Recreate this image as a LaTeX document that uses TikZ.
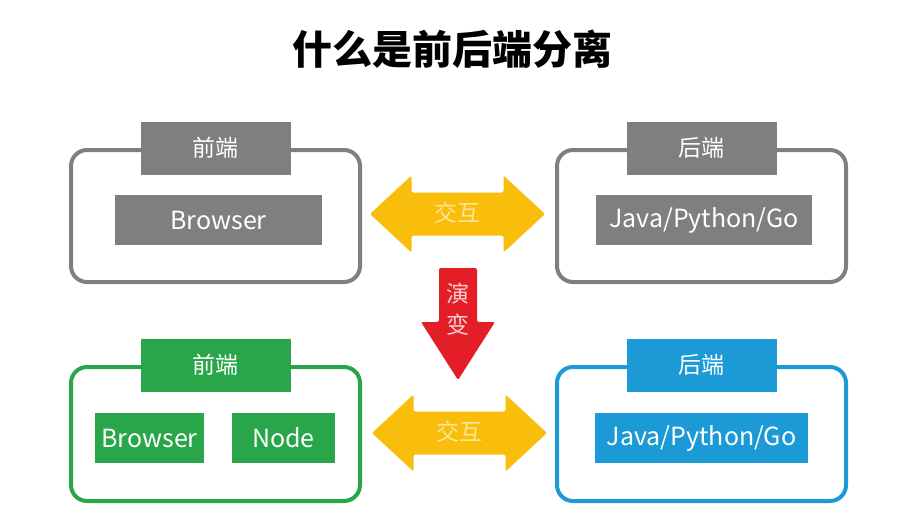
\documentclass[tikz,border=0pt]{standalone}
\usepackage{fontspec}
\setmainfont{Noto Sans CJK SC}
\usepackage{tikz}
\usetikzlibrary{calc,positioning}

\definecolor{oldgray}{HTML}{7F7F7F}
\definecolor{newgreen}{HTML}{29A64A}
\definecolor{newblue}{HTML}{1B9AD6}
\definecolor{swapyellow}{HTML}{F9BD0B}
\definecolor{evored}{HTML}{E31E26}
\definecolor{swaptext}{HTML}{FFE596}
\definecolor{evotext}{HTML}{F9CFCF}

\begin{document}
\begin{tikzpicture}[x=1pt, y=-1pt,
		frame/.style={draw=#1, line width=4pt, rounded corners=16pt, minimum width=289pt, minimum height=132pt},
		tag/.style={fill=#1, text=white, inner sep=0pt, minimum width=150pt, minimum height=53pt, font=\fontsize{23}{26}\selectfont},
		item/.style={fill=#1, text=white, inner sep=0pt, minimum height=50pt, font=\fontsize{25}{29}\selectfont},
		word/.style={inner sep=0pt, font=\fontsize{23}{26}\selectfont},
		pics/swaparrow/.style={code={
			\fill[swapyellow, rounded corners=2pt] (-87.5,0) -- (-46,-38.5) -- (-46,-21.5) -- (46,-21.5) -- (46,-38.5)
				-- (87.5,0) -- (46,38.5) -- (46,21.5) -- (-46,21.5) -- (-46,38.5) -- cycle;}}]
		\useasboundingbox (0,0) rectangle (915,512);
		% Title
		\node[font=\fontsize{40}{44}\selectfont\bfseries] (title) at (452,49) {什么是前后端分离};

		% Before: frames, tags and items
		\node[frame=oldgray] (oldfe) at (215.5,216) {};
		\node[tag=oldgray] (oldfetag) at (oldfe.north) {前端};
		\node[item=oldgray, minimum width=207pt] (oldbrowser) at (218.5,220) {Browser};
		\node[frame=oldgray, minimum width=289pt] (oldbe) at (701.5,216) {};
		\node[tag=oldgray] (oldbetag) at (oldbe.north) {后端};
		\node[item=oldgray, minimum width=216pt] (oldserver) at (704,220) {Java/Python/Go};

		% After: frames, tags and items
		\node[frame=newgreen, minimum height=134pt] (newfe) at (215.5,434) {};
		\node[tag=newgreen] (newfetag) at (newfe.north) {前端};
		\node[item=newgreen, minimum width=109pt] (newbrowser) at (149.5,438) {Browser};
		\node[item=newgreen, minimum width=103pt] (newnode) at (283.5,438) {Node};
		\node[frame=newblue, minimum height=134pt] (newbe) at (701.5,434) {};
		\node[tag=newblue] (newbetag) at (newbe.north) {后端};
		\node[item=newblue, minimum width=213pt] (newserver) at (701.5,438) {Java/Python/Go};

		% Interaction arrows
		\pic at ($(oldfe.east)!0.5!(oldbe.west)+(-1,-2)$) {swaparrow};
		\node[word, text=swaptext] (oldswap) at ($(oldfe.east)!0.5!(oldbe.west)+(-1,-3)$) {交互};
		\pic at ($(newfe.east)!0.5!(newbe.west)+(1,-1)$) {swaparrow};
		\node[word, text=swaptext] (newswap) at ($(newfe.east)!0.5!(newbe.west)+(1,-2)$) {交互};

		% Evolution arrow
		\coordinate (evotop) at (457,268);
		\fill[evored, rounded corners=2pt] (evotop) -- ++(20,0) -- ++(0,54) -- ++(18,0) -- ++(-37,58) -- ++(-37,-58) -- ++(18,0) -- ++(0,-54) -- cycle;
		\node[word, text=evotext] (evo1) at (458,294) {演};
		\node[word, text=evotext] (evo2) at (458,325) {变};
	\end{tikzpicture}
\end{document}
